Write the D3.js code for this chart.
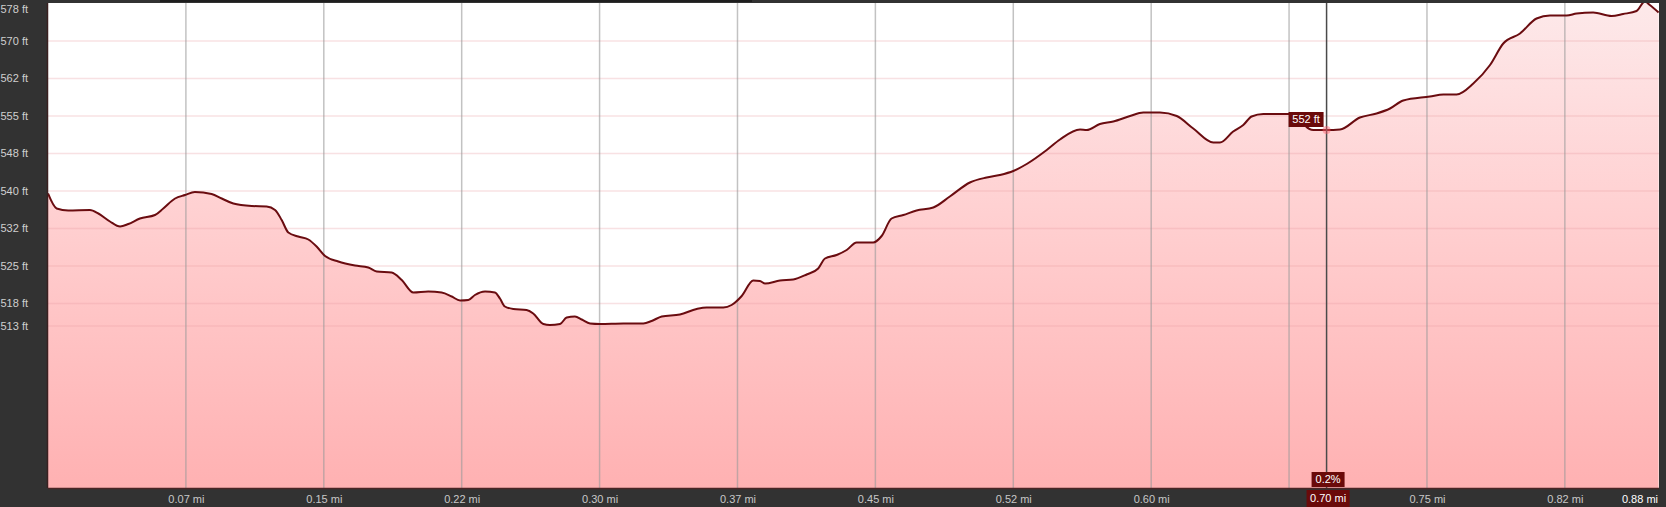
<!DOCTYPE html>
<html><head><meta charset="utf-8">
<script src="https://cdn.jsdelivr.net/npm/d3@7"></script>
<style>
html,body{margin:0;padding:0;background:#323232;}
svg{display:block;font-family:"Liberation Sans",Arial,sans-serif;}
</style></head>
<body>
<svg id="c" width="1666" height="507"></svg>
<script>
// distance (mi)
const dist = [0.000,0.0047,0.0110,0.0228,0.0274,0.0337,0.0392,0.0437,0.0500,0.0582,0.0627,0.0691,0.0745,0.0799,0.0890,0.0945,0.1008,0.1108,0.1189,0.1235,0.1271,0.1307,0.1361,0.1416,0.1461,0.1507,0.1579,0.1670,0.1742,0.1788,0.1869,0.1924,0.1987,0.2068,0.2141,0.2196,0.2241,0.2286,0.2322,0.2377,0.2431,0.2458,0.2485,0.2531,0.2603,0.2639,0.2694,0.2730,0.2785,0.2821,0.2866,0.2903,0.2948,0.3002,0.3129,0.3238,0.3283,0.3338,0.3437,0.3528,0.3582,0.3673,0.3718,0.3773,0.3836,0.3872,0.3900,0.3981,0.4053,0.4126,0.4189,0.4226,0.4289,0.4344,0.4398,0.4488,0.4534,0.4588,0.4652,0.4724,0.4815,0.4905,0.5014,0.5105,0.5177,0.5250,0.5323,0.5432,0.5504,0.5613,0.5649,0.5721,0.5794,0.5885,0.5957,0.6048,0.6139,0.6229,0.6338,0.6374,0.6446,0.6501,0.6546,0.6610,0.6746,0.6805,0.6840,0.6882,0.6954,0.7027,0.7135,0.7226,0.7299,0.7371,0.7516,0.7589,0.7661,0.7752,0.7843,0.7915,0.8006,0.8096,0.8169,0.8260,0.8314,0.8404,0.8504,0.8567,0.8640,0.8685,0.8712,0.8760];
// elevation (ft)
const elev = [539.5,536.5,536.1,536.2,535.5,533.9,532.9,533.4,534.5,535.2,536.5,538.5,539.2,539.8,539.4,538.5,537.5,537.0,536.9,536.2,534.2,531.7,530.9,530.3,528.9,527.0,525.9,525.1,524.7,523.9,523.7,522.2,519.7,519.9,519.7,518.9,518.1,518.2,519.2,519.9,519.7,518.5,516.9,516.4,516.2,515.5,513.4,513.2,513.4,514.7,514.9,514.3,513.5,513.4,513.5,513.5,514.0,514.9,515.3,516.4,516.7,516.7,517.2,519.0,522.1,522.0,521.5,522.1,522.3,523.3,524.5,526.5,527.2,528.2,529.7,529.7,531.0,534.5,535.2,536.1,536.7,538.9,541.7,542.7,543.2,544.0,545.4,548.2,550.3,552.3,552.2,553.4,553.9,555.0,555.7,555.7,555.0,552.5,549.7,549.7,551.9,553.2,554.9,555.4,555.4,555.3,553.0,552.2,552.2,552.3,554.7,555.5,556.5,558.1,558.9,559.3,559.3,561.5,565.2,569.5,571.5,574.5,575.1,575.1,575.5,575.7,575.0,575.4,576.0,577.9,577.2,575.7];

const yTicks = [570, 562.5, 555, 547.5, 540, 532.5, 525, 517.5];
const yTickLabels = ["570 ft","562 ft","555 ft","548 ft","540 ft","532 ft","525 ft","518 ft"];
const yExtremes = [578, 513];
const yExtremeLabels = ["578 ft","513 ft"];
const xTicks = [0.075,0.15,0.225,0.30,0.375,0.45,0.525,0.60,0.675,0.75,0.825];
const xTickLabels = ["0.07 mi","0.15 mi","0.22 mi","0.30 mi","0.37 mi","0.45 mi","0.52 mi","0.60 mi","","0.75 mi","0.82 mi"];
const xEndLabel = "0.88 mi";
const hoverDist = 0.6954, hoverElev = 552.2;
const hoverElevLabel = "552 ft", hoverDistLabel = "0.70 mi", hoverGradeLabel = "0.2%";

const L = 48, R = 1659, T = 3, B = 488;
const svg = d3.select("#c");
const x = d3.scaleLinear().domain([0, 0.8762]).range([L, R]);
const y = d3.scaleLinear().domain([480.6, 577.6]).range([B, T]);

const defs = svg.append("defs");
const grad = defs.append("linearGradient").attr("id","g").attr("x1",0).attr("x2",0).attr("y1",0).attr("y2",1)
  .attr("gradientUnits","userSpaceOnUse").attr("y1",T).attr("y2",B).attr("x1",0).attr("x2",0);
grad.append("stop").attr("offset","0%").attr("stop-color","#fde9ea");
grad.append("stop").attr("offset","40%").attr("stop-color","#ffd2d3");
grad.append("stop").attr("offset","100%").attr("stop-color","#ffb1b2");
defs.append("clipPath").attr("id","clip").append("rect").attr("x",L).attr("y",T).attr("width",R-L).attr("height",B-T);

svg.append("rect").attr("x",160).attr("y",0).attr("width",592).attr("height",2).attr("fill","#1e1e1e");
svg.append("rect").attr("x",L).attr("y",T).attr("width",R-L).attr("height",B-T).attr("fill","#ffffff");

const data = dist.map((d,i)=>({d, e: elev[i]}));
const g = svg.append("g").attr("clip-path","url(#clip)");
g.append("path").datum(data)
  .attr("d", d3.area().x(p=>x(p.d)).y0(B).y1(p=>y(p.e)).curve(d3.curveMonotoneX))
  .attr("fill","url(#g)");

// horizontal grid
g.selectAll("line.hg").data(yTicks.concat([513])).enter().append("line")
  .attr("x1",L).attr("x2",R).attr("y1",d=>y(d)).attr("y2",d=>y(d))
  .attr("stroke","#e89aa3").attr("stroke-opacity",0.3).attr("stroke-width",1.5);
// vertical grid
g.selectAll("line.vg").data(xTicks).enter().append("line")
  .attr("x1",d=>x(d)).attr("x2",d=>x(d)).attr("y1",T).attr("y2",B)
  .attr("stroke","#9a9a9a").attr("stroke-opacity",0.6).attr("stroke-width",1.5);

g.append("path").datum(data)
  .attr("d", d3.line().x(p=>x(p.d)).y(p=>y(p.e)).curve(d3.curveMonotoneX))
  .attr("fill","none").attr("stroke","#6a0c10").attr("stroke-width",2);

// borders
svg.append("line").attr("x1",L-0.5).attr("x2",L-0.5).attr("y1",T).attr("y2",B).attr("stroke","#3a2020").attr("stroke-width",1.5);
svg.append("line").attr("x1",L).attr("x2",R).attr("y1",B+0.5).attr("y2",B+0.5).attr("stroke","#4a2424").attr("stroke-width",1.5);

// y labels
const yl = svg.append("g").attr("font-size",11).attr("fill","#cfcfcf").attr("text-anchor","end");
yl.selectAll("text.t").data(yTicks).enter().append("text")
  .attr("x",28).attr("y",d=>y(d)).attr("dy","0.35em").text((d,i)=>yTickLabels[i]);
yl.selectAll("text.e").data(yExtremes).enter().append("text")
  .attr("x",28).attr("y",d=>Math.min(Math.max(y(d), T+6), B-6)).attr("dy","0.35em").text((d,i)=>yExtremeLabels[i]);

// x axis
const xa = svg.append("g").attr("transform",`translate(0,${B})`)
  .call(d3.axisBottom(x).tickValues(xTicks).tickSize(0).tickPadding(7).tickFormat((d,i)=>xTickLabels[i]));
xa.select(".domain").remove();
xa.selectAll("text").attr("fill","#c8c8c8").attr("font-size",11).attr("font-family","Liberation Sans, Arial, sans-serif");
svg.append("text").attr("x",R-1).attr("y",B+7).attr("dy","0.71em").attr("text-anchor","end")
  .attr("font-size",11).attr("fill","#ffffff").text(xEndLabel);

// hover
const hx = x(hoverDist), hy = y(hoverElev);
svg.append("line").attr("x1",hx).attr("x2",hx).attr("y1",T).attr("y2",B).attr("stroke","#4a4a4a").attr("stroke-width",1.5);
svg.append("circle").attr("cx",hx).attr("cy",hy).attr("r",4).attr("fill","#ff5a6a").attr("fill-opacity",0.45);
// elevation box
const eb = svg.append("g");
eb.append("rect").attr("x",hx-38).attr("y",hy-18).attr("width",35).attr("height",15).attr("fill","#6a0a0a");
eb.append("text").attr("x",hx-20.5).attr("y",hy-10.5).attr("dy","0.35em").attr("text-anchor","middle").attr("font-size",11).attr("fill","#fff").text(hoverElevLabel);
// grade box
svg.append("rect").attr("x",hx-15).attr("y",B-16).attr("width",33).attr("height",15).attr("fill","#6a0a0a");
svg.append("text").attr("x",hx+1.5).attr("y",B-8.5).attr("dy","0.35em").attr("text-anchor","middle").attr("font-size",11).attr("fill","#fff").text(hoverGradeLabel);
// distance box
svg.append("rect").attr("x",hx-20).attr("y",B+2).attr("width",43).attr("height",17).attr("fill","#6a0a0a");
svg.append("text").attr("x",hx+1.5).attr("y",B+10.5).attr("dy","0.35em").attr("text-anchor","middle").attr("font-size",11).attr("fill","#fff").text(hoverDistLabel);
</script>
</body></html>
